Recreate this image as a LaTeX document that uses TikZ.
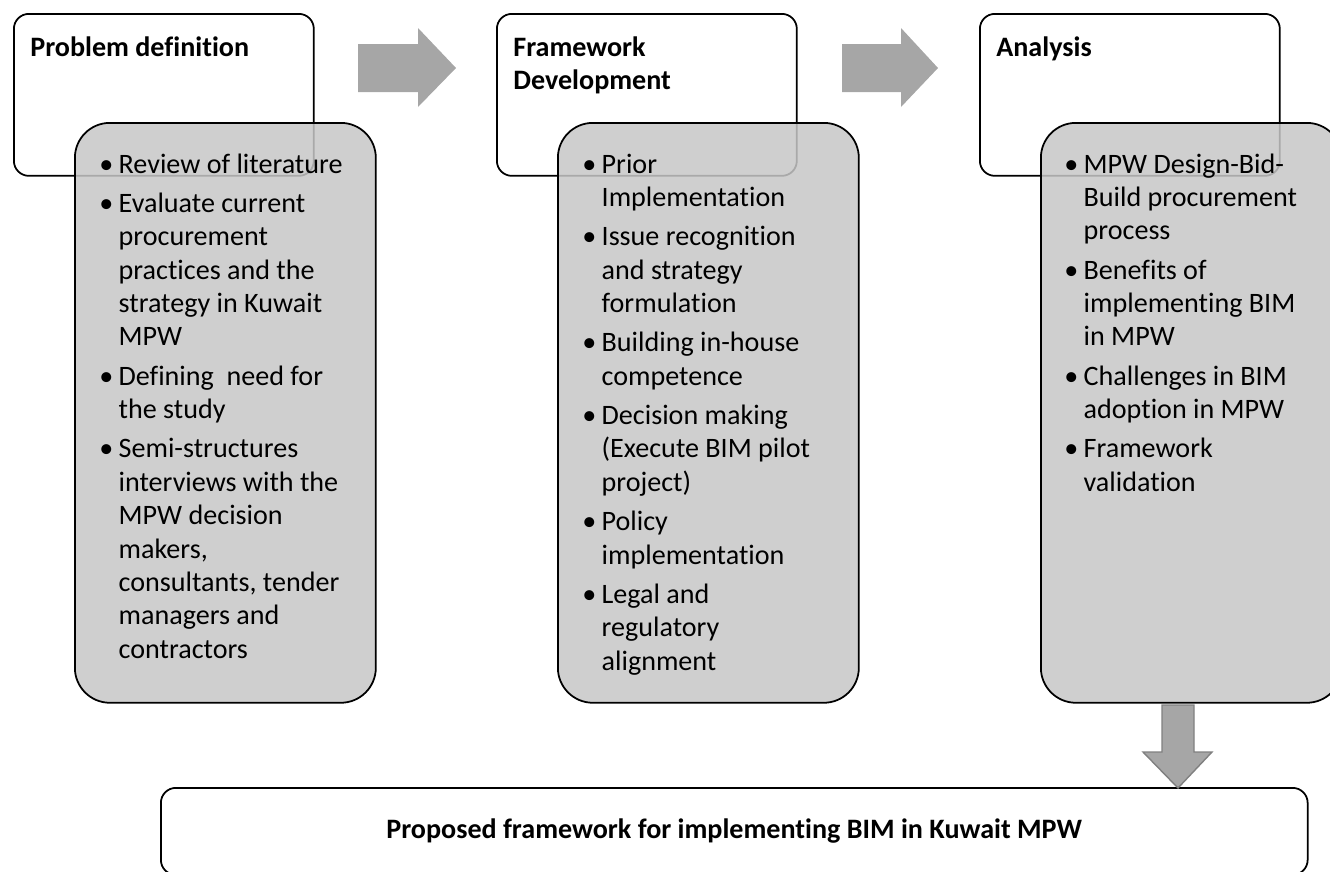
\documentclass[tikz,border=0pt]{standalone}
\usepackage{fontspec}
\setmainfont{Carlito}[Ligatures=NoCommon]

\newcommand{\diagfont}{\fontsize{16}{19}\selectfont}
\newcommand{\nextitem}{\\[3.4pt]}

\tikzset{
  headbox/.style={draw, line width=1pt, rounded corners=0.3cm, fill=white,
    minimum width=6cm, minimum height=3.24cm, inner sep=0pt, anchor=north west},
  listbox/.style={draw, line width=1pt, rounded corners=0.7cm, fill=black!22,
    fill opacity=0.85, minimum width=6.02cm, minimum height=11.6cm,
    inner sep=0pt, anchor=north west},
  headtext/.style={anchor=base west, inner sep=0pt, font=\diagfont\bfseries},
  listtext/.style={anchor=base west, inner sep=0pt},
  blockarrow/.style={fill=black!35}
}

\begin{document}
\begin{tikzpicture}[x=0.02cm, y=-0.02cm, font=\diagfont]
	\useasboundingbox (0,0) rectangle (1330,872);

	% stage headers
	\node[headbox] (prob) at (13,13) {};
	\node[headbox] (frame) at (496,13) {};
	\node[headbox] (anal) at (979,13) {};

	% grey detail boxes, laid over the headers
	\node[listbox] (probbox) at (74,122) {};
	\node[listbox] (framebox) at (557,122) {};
	\node[listbox] (analbox) at (1040,122) {};

	\node[headtext] (probtitle) at (30,56) {Problem definition};
	\node[headtext] (frametitle) at (513,56) {\begin{tabular}[t]{@{}l@{}}Framework\\Development\end{tabular}};
	\node[headtext] (analtitle) at (996,56) {Analysis};

	\node[listtext] (problist) at (99,173) {\begin{tabular}[t]{@{}p{11pt}@{}l@{}}
		\textbullet & Review of literature\nextitem
		\textbullet & Evaluate current\\
		& procurement\\
		& practices and the\\
		& strategy in Kuwait\\
		& MPW\nextitem
		\textbullet & Defining\ \ need for\\
		& the study\nextitem
		\textbullet & Semi-structures\\
		& interviews with the\\
		& MPW decision\\
		& makers,\\
		& consultants, tender\\
		& managers and\\
		& contractors
	\end{tabular}};

	\node[listtext] (framelist) at (582,173) {\begin{tabular}[t]{@{}p{11pt}@{}l@{}}
		\textbullet & Prior\\
		& Implementation\nextitem
		\textbullet & Issue recognition\\
		& and strategy\\
		& formulation\nextitem
		\textbullet & Building in-house\\
		& competence\nextitem
		\textbullet & Decision making\\
		& (Execute BIM pilot\\
		& project)\nextitem
		\textbullet & Policy\\
		& implementation\nextitem
		\textbullet & Legal and\\
		& regulatory\\
		& alignment
	\end{tabular}};

	\node[listtext] (anallist) at (1064,173) {\begin{tabular}[t]{@{}p{11pt}@{}l@{}}
		\textbullet & MPW Design-Bid-\\
		& Build procurement\\
		& process\nextitem
		\textbullet & Benefits of\\
		& implementing BIM\\
		& in MPW\nextitem
		\textbullet & Challenges in BIM\\
		& adoption in MPW\nextitem
		\textbullet & Framework\\
		& validation
	\end{tabular}};

	% arrows between the stages
	\coordinate (step1) at (358,44);
	\fill[blockarrow] (step1) -- ++(60,0) -- ++(0,-16) -- ++(38,40) -- ++(-38,39) -- ++(0,-15) -- ++(-60,0) -- cycle;
	\coordinate (step2) at (842,44);
	\fill[blockarrow] (step2) -- ++(59,0) -- ++(0,-16) -- ++(37,40) -- ++(-37,39) -- ++(0,-15) -- ++(-59,0) -- cycle;

	% outcome
	\node[draw, line width=1pt, rounded corners=0.3cm, minimum width=22.94cm, minimum height=1.74cm,
		inner sep=0pt, anchor=north west, font=\diagfont\bfseries] (result) at (160,787)
		{Proposed framework for implementing BIM in Kuwait MPW};
	\coordinate (down) at (1162,705);
	\filldraw[blockarrow, draw=black!50, line width=0.8pt] (down) -- ++(32,0) -- ++(0,47) -- ++(18,0) -- ++(-34,36) -- ++(-35,-36) -- ++(19,0) -- cycle;

\end{tikzpicture}
\end{document}
